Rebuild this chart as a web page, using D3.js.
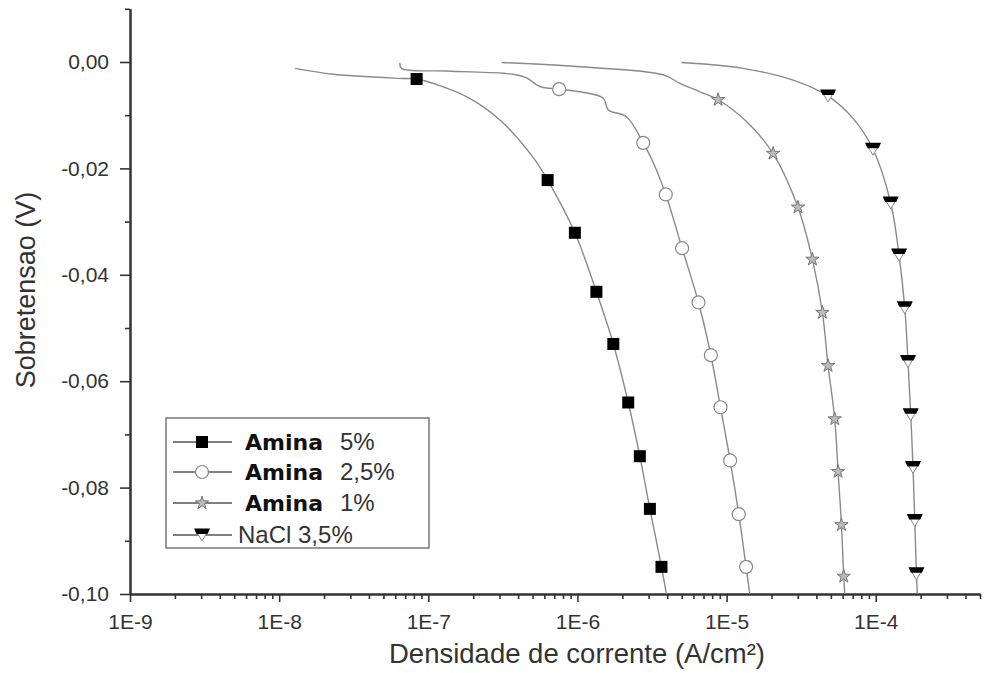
<!DOCTYPE html>
<html>
    <head>
        <meta charset="utf-8" />
        <title> Sobretensao x densidade de corrente </title>
        <style>
          body { margin: 0; background: #fff; }
        </style>
        <script src="https://d3js.org/d3.v7.min.js"></script>
    </head>

    <body>
      <script>

        // ticks of the two axes
        var xTicks = [1e-9, 1e-8, 1e-7, 1e-6, 1e-5, 1e-4];
        var xTickLabels = ["1E-9", "1E-8", "1E-7", "1E-6", "1E-5", "1E-4"];
        var yTicks = [0, -0.02, -0.04, -0.06, -0.08, -0.10];
        var yTickLabels = ["0,00", "-0,02", "-0,04", "-0,06", "-0,08", "-0,10"];
        var yMinorTicks = [0.01, -0.01, -0.03, -0.05, -0.07, -0.09];

        // [current density A/cm2, overpotential V] - points of the line only
        var amina5Line = [[1.28e-8, -0.0012], [2.30e-8, -0.0023], [6.76e-8, -0.0031],
                          [1.80e-7, -0.0065], [3.02e-7, -0.0109], [5.0e-7, -0.0178], [3.95e-6, -0.1]];
        // points that carry a symbol
        var amina5Marks = [[8.35e-8, -0.0032], [6.31e-7, -0.0222], [9.61e-7, -0.0321], [1.34e-6, -0.0432],
                           [1.74e-6, -0.0530], [2.19e-6, -0.0640], [2.62e-6, -0.0741], [3.06e-6, -0.0840],
                           [3.66e-6, -0.0949]];

        var amina25Line = [[6.45e-8, -0.0002], [6.6e-8, -0.0012], [1.33e-7, -0.0017], [3.71e-7, -0.0023],
                           [4.56e-7, -0.0030], [5.6e-7, -0.0046], [1.04e-6, -0.0056], [1.49e-6, -0.0068],
                           [1.61e-6, -0.0090], [2.13e-6, -0.0103], [3.2e-6, -0.0187], [1.43e-5, -0.1]];
        var amina25Marks = [[7.54e-7, -0.0051], [2.76e-6, -0.0152], [3.91e-6, -0.0249], [5.03e-6, -0.0350],
                            [6.48e-6, -0.0452], [7.84e-6, -0.0551], [9.10e-6, -0.0649], [1.056e-5, -0.0749],
                            [1.207e-5, -0.0850], [1.351e-5, -0.0949]];

        var amina1Line = [[3.1e-7, -0.0001], [1.04e-6, -0.0009], [3.75e-6, -0.0024], [4.86e-6, -0.0040],
                          [6.61e-6, -0.0056], [1.36e-5, -0.0112], [6.2e-5, -0.1]];
        var amina1Marks = [[8.77e-6, -0.0071], [2.05e-5, -0.0172], [3.01e-5, -0.0273], [3.76e-5, -0.0371],
                           [4.39e-5, -0.0471], [4.79e-5, -0.0571], [5.31e-5, -0.0671], [5.59e-5, -0.0770],
                           [5.89e-5, -0.0870], [6.10e-5, -0.0967]];

        var naclLine = [[4.98e-6, -0.0001], [1.29e-5, -0.0012], [2.79e-5, -0.0034], [7.05e-5, -0.0106],
                        [1.9e-4, -0.1]];
        var naclMarks = [[4.79e-5, -0.0064], [9.59e-5, -0.0164], [1.26e-4, -0.0265], [1.433e-4, -0.0363],
                         [1.565e-4, -0.0462], [1.646e-4, -0.0563], [1.716e-4, -0.0663], [1.778e-4, -0.0762],
                         [1.826e-4, -0.0862], [1.874e-4, -0.0962]];

        var seriesNames = ["5%", "2,5%", "1%", "NaCl 3,5%"];
        var seriesBold = ["Amina", "Amina", "Amina", ""];
        var seriesShapes = ["square", "circle", "star", "triangle"];

        var series = [
            { line: amina5Line, marks: amina5Marks },
            { line: amina25Line, marks: amina25Marks },
            { line: amina1Line, marks: amina1Marks },
            { line: naclLine, marks: naclMarks }
        ];

        var arial = "Arial, 'Liberation Sans', sans-serif";

        var canvas = d3.select("body").append("svg")
            .attr("width", 984)
            .attr("height", 673);

        var x = d3.scaleLog().domain([1e-9, 5e-4]).range([130, 980]);
        var y = d3.scaleLinear().domain([-0.10, 0.01]).range([594, 8.8]);

        // minor ticks on the log axis: 2..9 of every decade
        var xMinorTicks = [];
        for (var e = -9; e <= -4; e++) {
            for (var m = 2; m <= 9; m++) {
                var v = m * Math.pow(10, e);
                if (v <= 5e-4) xMinorTicks.push(v);
            }
        }

        // bottom axis
        canvas.append("g")
            .attr("transform", "translate(0,594)")
            .call(d3.axisBottom(x).tickValues(xMinorTicks).tickFormat("").tickSize(5).tickSizeOuter(0));
        canvas.append("g")
            .attr("transform", "translate(0,594)")
            .call(d3.axisBottom(x).tickValues(xTicks)
                .tickFormat(function(d, i){ return xTickLabels[i]; })
                .tickSize(8).tickSizeOuter(0).tickPadding(12));

        // left axis
        canvas.append("g")
            .attr("transform", "translate(130,0)")
            .call(d3.axisLeft(y).tickValues(yMinorTicks).tickFormat("").tickSize(5).tickSizeOuter(0));
        canvas.append("g")
            .attr("transform", "translate(130,0)")
            .call(d3.axisLeft(y).tickValues(yTicks)
                .tickFormat(function(d, i){ return yTickLabels[i]; })
                .tickSize(10).tickSizeOuter(0).tickPadding(11));

        canvas.selectAll(".domain").attr("stroke", "#333").attr("stroke-width", 2);
        canvas.selectAll(".tick line").attr("stroke", "#333").attr("stroke-width", 1.6);
        canvas.selectAll(".tick text")
            .attr("fill", "#333")
            .attr("font-size", 21)
            .attr("font-family", arial);

        // axis titles
        canvas.append("text")
            .attr("x", 577)
            .attr("y", 663)
            .attr("text-anchor", "middle")
            .attr("font-family", arial)
            .attr("font-size", 27.5)
            .attr("fill", "#333")
            .text("Densidade de corrente (A/cm²)");

        canvas.append("text")
            .attr("transform", "translate(35,290) rotate(-90)")
            .attr("text-anchor", "middle")
            .attr("font-family", arial)
            .attr("font-size", 27)
            .attr("fill", "#333")
            .text("Sobretensao (V)");

        // draw one symbol into a group
        function drawSymbol(g, shape) {
            if (shape == "square") {
                g.append("rect")
                    .attr("x", -6).attr("y", -6)
                    .attr("width", 12).attr("height", 12)
                    .attr("fill", "#000");
            }
            if (shape == "circle") {
                g.append("circle")
                    .attr("r", 6.5)
                    .attr("fill", "#fff")
                    .attr("stroke", "#888")
                    .attr("stroke-width", 1.2);
            }
            if (shape == "star") {
                g.append("path")
                    .attr("d", d3.symbol().type(d3.symbolStar).size(55)())
                    .attr("fill", "#bbb")
                    .attr("stroke", "#777")
                    .attr("stroke-width", 1);
            }
            if (shape == "triangle") {
                g.append("path")
                    .attr("d", "M-6.5,-5L6.5,-5L0,6Z")
                    .attr("fill", "#fff")
                    .attr("stroke", "#888")
                    .attr("stroke-width", 1);
                g.append("path")
                    .attr("d", "M-8,-6.5L8,-6.5L5.5,-1L-5.5,-1Z")
                    .attr("fill", "#000");
            }
        }

        var line = d3.line()
            .x(function(d){ return x(d[0]); })
            .y(function(d){ return y(d[1]); })
            .curve(d3.curveCatmullRom.alpha(0.5));

        series.forEach(function(s, i){
            // line goes through every point, sorted from top to bottom
            var pts = s.line.concat(s.marks).sort(function(a, b){ return b[1] - a[1]; });
            canvas.append("path")
                .attr("d", line(pts))
                .attr("fill", "none")
                .attr("stroke", "#8a8a8a")
                .attr("stroke-width", 1.4);

            canvas.selectAll(".mark" + i)
                .data(s.marks)
                .enter()
                .append("g")
                .attr("class", "mark" + i)
                .attr("transform", function(d){ return "translate(" + x(d[0]) + "," + y(d[1]) + ")"; })
                .each(function(){ drawSymbol(d3.select(this), seriesShapes[i]); });
        });

        // legend
        var legend = canvas.append("g");
        legend.append("rect")
            .attr("x", 166).attr("y", 418)
            .attr("width", 263).attr("height", 130)
            .attr("fill", "#fff")
            .attr("stroke", "#777")
            .attr("stroke-width", 1.5);

        var rowY = [442, 472, 503, 535];
        seriesNames.forEach(function(name, i){
            legend.append("line")
                .attr("x1", 173).attr("x2", 232)
                .attr("y1", rowY[i]).attr("y2", rowY[i])
                .attr("stroke", "#555")
                .attr("stroke-width", 1.6);
            var g = legend.append("g").attr("transform", "translate(202," + rowY[i] + ")");
            drawSymbol(g, seriesShapes[i]);

            if (seriesBold[i] != "") {
                legend.append("text")
                    .attr("x", 245).attr("y", rowY[i] + 8)
                    .attr("font-family", "'DejaVu Sans', Verdana, sans-serif")
                    .attr("font-weight", "bold")
                    .attr("font-size", 22)
                    .attr("fill", "#111")
                    .text(seriesBold[i]);
                legend.append("text")
                    .attr("x", 340).attr("y", rowY[i] + 8)
                    .attr("font-family", arial)
                    .attr("font-size", 24)
                    .attr("fill", "#333")
                    .text(name);
            } else {
                legend.append("text")
                    .attr("x", 238).attr("y", rowY[i] + 8)
                    .attr("font-family", arial)
                    .attr("font-size", 24)
                    .attr("fill", "#333")
                    .text(name);
            }
        });

      </script>
    </body>
</html>
